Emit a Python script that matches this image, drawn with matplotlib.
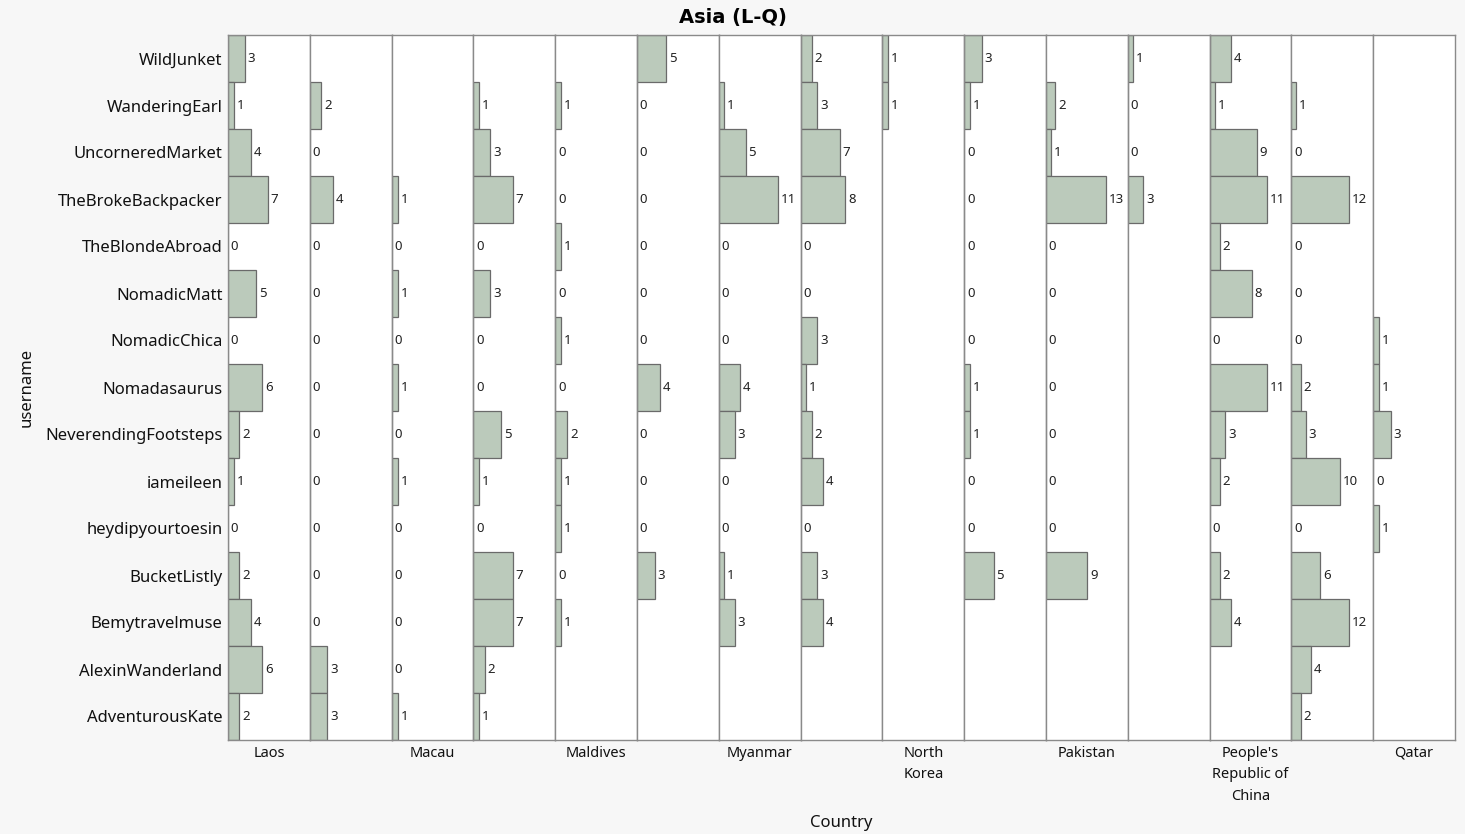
import matplotlib.pyplot as plt

plt.rcParams['font.family'] = ['Noto Sans', 'DejaVu Sans']

users = ["WildJunket", "WanderingEarl", "UncorneredMarket", "TheBrokeBackpacker",
         "TheBlondeAbroad", "NomadicMatt", "NomadicChica", "Nomadasaurus",
         "NeverendingFootsteps", "iameileen", "heydipyourtoesin", "BucketListly",
         "Bemytravelmuse", "AlexinWanderland", "AdventurousKate"]

# 15 country panels, only every other one is labelled in the original
countries = ["Laos", "Lebanon", "Macau", "Malaysia", "Maldives", "Mongolia",
             "Myanmar", "Nepal", "North\nKorea", "Oman", "Pakistan", "Palestine",
             "People's\nRepublic of\nChina", "Philippines", "Qatar"]
shown = [True, False] * 7 + [True]

N = None
counts = [
    [3, 1, 4, 7, 0, 5, 0, 6, 2, 1, 0, 2, 4, 6, 2],
    [N, 2, 0, 4, 0, 0, 0, 0, 0, 0, 0, 0, 0, 3, 3],
    [N, N, N, 1, 0, 1, 0, 1, 0, 1, 0, 0, 0, 0, 1],
    [N, 1, 3, 7, 0, 3, 0, 0, 5, 1, 0, 7, 7, 2, 1],
    [N, 1, 0, 0, 1, 0, 1, 0, 2, 1, 1, 0, 1, N, N],
    [5, 0, 0, 0, 0, 0, 0, 4, 0, 0, 0, 3, N, N, N],
    [N, 1, 5, 11, 0, 0, 0, 4, 3, 0, 0, 1, 3, N, N],
    [2, 3, 7, 8, 0, 0, 3, 1, 2, 4, 0, 3, 4, N, N],
    [1, 1, N, N, N, N, N, N, N, N, N, N, N, N, N],
    [3, 1, 0, 0, 0, 0, 0, 1, 1, 0, 0, 5, N, N, N],
    [N, 2, 1, 13, 0, 0, 0, 0, 0, 0, 0, 9, N, N, N],
    [1, 0, 0, 3, N, N, N, N, N, N, N, N, N, N, N],
    [4, 1, 9, 11, 2, 8, 0, 11, 3, 2, 0, 2, 4, N, N],
    [N, 1, 0, 12, 0, 0, 0, 2, 3, 10, 0, 6, 12, 4, 2],
    [N, N, N, N, N, N, 1, 1, 3, 0, 1, N, N, N, N],
]

# axis maximum of each panel (each panel in the original has its own scale)
xmax = [14.4, 14.0, 13.7, 14.6, 13.7, 14.0, 15.3, 14.6, 13.7, 13.9, 17.8, 15.7, 15.6, 16.9, 13.9]

W, H = 1465, 834
fig, axes = plt.subplots(1, len(countries), sharey=True, figsize=(W / 100, H / 100), dpi=100)
fig.patch.set_facecolor('#f7f7f7')
fig.subplots_adjust(left=228 / W, right=1455 / W, top=1 - 35 / H, bottom=1 - 740 / H, wspace=0)

for i, ax in enumerate(axes):
    ys = [j for j, v in enumerate(counts[i]) if v is not None]
    vals = [counts[i][j] for j in ys]
    bars = ax.barh(ys, vals, height=1.0, color='#bbcabb', edgecolor='#6a6a6a', linewidth=0.9)
    ax.bar_label(bars, padding=2, fontsize=9.5, color='#222222')
    ax.set_xlim(0, xmax[i])
    ax.set_ylim(len(users) - 0.5, -0.5)
    ax.set_xticks([])
    ax.set_facecolor('white')
    for s in ax.spines.values():
        s.set_color('#8a8a8a')
        s.set_linewidth(1.0)
    ax.tick_params(axis='y', length=0, pad=4, labelsize=12, labelcolor='#111111')
    if shown[i]:
        ax.text(0.5, -0.008, countries[i], transform=ax.transAxes, ha='center', va='top',
                fontsize=10.5, linespacing=1.6, color='#111111')

axes[0].set_yticks(range(len(users)))
axes[0].set_yticklabels(users)

fig.text(0.5, 1 - 18 / H, "Asia (L-Q)", ha='center', va='center', fontsize=14,
         fontweight='bold', family=['DejaVu Sans'])
fig.text(841 / W, 1 - 823 / H, "Country", ha='center', va='center', fontsize=12, color='#111111')
fig.text(27 / W, 1 - 387 / H, "username", ha='center', va='center', rotation=90, fontsize=12, color='#111111')

fig.savefig("out.png", dpi=100, facecolor=fig.get_facecolor())
